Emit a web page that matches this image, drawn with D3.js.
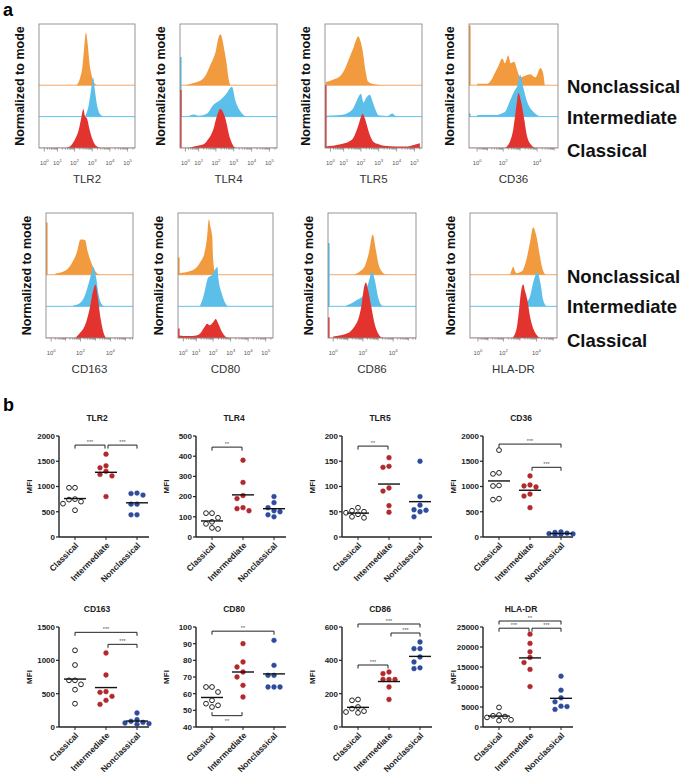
<!DOCTYPE html>
<html><head><meta charset="utf-8">
<script src="https://cdn.jsdelivr.net/npm/d3@7"></script>
<style>
body{margin:0;background:#fff}
svg{display:block}
text{font-family:Arial,"Liberation Sans",Helvetica,sans-serif}
</style>
</head><body>
<svg id="c" width="685" height="776"></svg>
<script>
// ---------------- DATA ----------------
const markers = ["TLR2","TLR4","TLR5","CD36","CD163","CD80","CD86","HLA-DR"];
const populations = ["Classical","Intermediate","Nonclassical"];
const histOrder = ["Nonclassical","Intermediate","Classical"];

// flow histogram axis type per marker (A: 10^0..10^5, B/C: 10^0,10^2,10^4 labels)
const histAxisType = ["A","A","A","B","C","A","C","B"];
const decadeLabelsA = [0,1,2,3,4,5];
const decadeLabelsBC = [0,2,4];

// histogram profiles: [log10 fluorescence, height normalized to mode]
const histNonclassical = [
  [[2.1,0],[2.3,0.2],[2.45,0.6],[2.55,1.2],[2.65,1.68],[2.75,1.3],[2.85,0.7],[3.0,0.25],[3.15,0.05],[3.3,0]],
  [[0,0],[0.5,0.05],[1.1,0.14],[1.4,0.3],[1.65,0.6],[1.85,0.85],[2.0,1.1],[2.1,1.4],[2.25,1.62],[2.35,1.5],[2.45,1.2],[2.6,0.7],[2.7,0.25],[2.8,0]],
  [[-1,0.1],[0.3,0.18],[0.8,0.3],[1.1,0.55],[1.35,0.88],[1.55,1.15],[1.7,1.4],[1.85,1.56],[1.95,1.45],[2.1,1.1],[2.25,0.5],[2.4,0.12],[2.7,0.04],[3.2,0]],
  [[0,0.05],[1.0,0.05],[1.3,0.2],[1.5,0.4],[1.7,0.6],[1.95,0.85],[2.1,0.7],[2.3,0.95],[2.45,0.7],[2.65,0.75],[2.85,0.45],[3.0,0.25],[3.3,0.3],[3.6,0.35],[3.9,0.25],[4.2,0.55],[4.35,0.4],[4.45,0]],
  [[0.3,0.04],[1.05,0.15],[1.4,0.35],[1.75,0.7],[2.0,1.11],[2.3,1.1],[2.5,0.7],[2.75,0.35],[3.1,0.05],[3.3,0]],
  [[-1,0.05],[0.8,0.15],[1.25,0.4],[1.5,0.7],[1.65,1.2],[1.75,1.75],[1.85,1.5],[1.95,1.2],[2.0,0.5],[2.1,0.1],[2.2,0]],
  [[1.35,0],[1.8,0.1],[2.15,0.3],[2.4,0.7],[2.65,1.27],[2.85,0.8],[3.05,0.3],[3.25,0.1],[3.5,0]],
  [[2.4,0],[2.5,0.15],[2.6,0.25],[2.7,0.12],[2.8,0.05],[3.1,0.1],[3.4,0.5],[3.6,1.0],[3.8,1.5],[4.0,1.2],[4.2,0.6],[4.35,0.2],[4.55,0]]
];
const histIntermediate = [
  [[2.6,0],[2.8,0.35],[2.95,0.9],[3.05,1.24],[3.15,0.85],[3.3,0.3],[3.5,0.05],[3.7,0]],
  [[0.2,0],[0.7,0.07],[1.0,0.03],[1.5,0.1],[1.85,0.37],[2.25,0.53],[2.6,0.74],[2.9,0.95],[3.1,0.5],[3.4,0.15],[3.7,0]],
  [[-1,0.03],[0.8,0.05],[1.35,0.15],[1.6,0.3],[1.8,0.55],[2.0,0.73],[2.15,0.45],[2.3,0.6],[2.5,0.7],[2.65,0.5],[2.8,0.25],[3.0,0.04],[3.5,0.02],[3.75,0.1],[3.95,0.02],[4.3,0]],
  [[0,0.05],[1.5,0.05],[2.1,0.15],[2.4,0.5],[2.65,0.8],[2.85,1.0],[3.0,1.33],[3.2,0.9],[3.4,0.5],[3.7,0.2],[4.0,0.05],[4.2,0]],
  [[1.5,0.03],[1.95,0.1],[2.3,0.35],[2.5,0.65],[2.7,1.0],[2.85,1.24],[3.05,0.9],[3.2,0.4],[3.45,0.05],[3.6,0]],
  [[1.25,0.05],[1.4,0.25],[1.6,0.7],[1.7,0.9],[1.95,1.0],[2.1,1.15],[2.25,1.24],[2.3,0.9],[2.5,0.4],[2.7,0.1],[2.85,0]],
  [[0.9,0.03],[1.25,0.1],[1.6,0.2],[1.95,0.3],[2.2,0.5],[2.4,0.8],[2.6,1.1],[2.8,0.8],[3.0,0.3],[3.2,0.05],[3.4,0]],
  [[3.0,0.03],[3.3,0.08],[3.6,0.3],[3.8,0.75],[4.05,1.08],[4.25,0.7],[4.4,0.2],[4.6,0]]
];
const histClassical = [
  [[1.5,0],[1.8,0.08],[2.05,0.3],[2.25,0.6],[2.4,1.0],[2.5,1.24],[2.6,1.0],[2.7,0.95],[2.85,0.6],[3.0,0.3],[3.2,0.08],[3.5,0]],
  [[0.3,0],[0.7,0.05],[1.3,0.12],[1.55,0.27],[1.85,0.58],[2.05,1.0],[2.25,1.24],[2.5,1.0],[2.8,0.3],[3.0,0.05],[3.15,0]],
  [[-1,0.05],[0.8,0.12],[1.3,0.2],[1.55,0.3],[1.75,0.55],[1.9,0.8],[2.1,1.08],[2.25,0.9],[2.4,0.6],[2.55,0.35],[2.7,0.2],[3.0,0.12],[3.3,0.07],[4.0,0.05],[4.6,0.05],[5.0,0.1],[5.3,0.15]],
  [[2.1,0],[2.4,0.2],[2.6,0.6],[2.8,1.4],[2.9,1.75],[3.05,1.5],[3.25,0.9],[3.4,0.4],[3.65,0.1],[3.9,0]],
  [[1.65,0],[1.95,0.15],[2.3,0.4],[2.6,0.9],[2.85,1.5],[3.0,1.68],[3.15,1.3],[3.35,0.6],[3.55,0.15],[3.7,0]],
  [[-1,0.08],[0.5,0.06],[1.0,0.08],[1.25,0.15],[1.5,0.35],[1.65,0.45],[1.8,0.4],[2.0,0.5],[2.15,0.6],[2.3,0.45],[2.5,0.2],[2.7,0.05],[2.9,0]],
  [[0,0.05],[0.45,0.08],[0.8,0.12],[1.15,0.2],[1.5,0.4],[1.7,0.6],[1.9,1.0],[2.1,1.65],[2.2,1.75],[2.35,1.5],[2.55,1.0],[2.75,0.5],[2.95,0.2],[3.15,0.05],[3.35,0]],
  [[2.55,0],[2.8,0.3],[2.95,0.9],[3.05,1.4],[3.2,1.7],[3.3,1.5],[3.45,1.2],[3.6,0.7],[3.8,0.3],[4.0,0.1],[4.2,0]]
];
// off-scale-low events piled at the axis minimum (height normalized to mode)
const edgeNonclassical = [0,0,0,1.9,1.65,0.55,0,0];
const edgeIntermediate = [0,1.9,0,0.1,0,0,2.0,0];
const edgeClassical    = [0,1.85,2.0,0,0,0.3,0.65,0];

// MFI per donor (7 donors)
const mfiClassical = [
  [975,975,750,740,700,660,530],
  [118,118,95,75,65,45,40],
  [58,52,50,48,45,40,38],
  [1720,1270,1250,1020,1010,760,740],
  [1150,930,700,700,640,560,350],
  [64,64,61,56,54,53,52],
  [165,160,120,110,95,90,85],
  [4900,3000,2800,2600,2400,1800,1600]
];
const mfiIntermediate = [
  [1640,1410,1370,1300,1240,1210,800],
  [380,270,205,190,145,140,130],
  [157,140,138,97,91,62,49],
  [1210,1030,1010,990,850,810,580],
  [1110,780,530,520,460,400,340],
  [90,79,76,73,70,65,58],
  [330,320,285,285,285,240,165],
  [23200,20900,18800,17400,16100,14400,10100]
];
const mfiNonclassical = [
  [870,860,830,650,650,440,440],
  [200,170,145,130,125,110,100],
  [150,80,63,54,53,50,40],
  [100,90,75,65,60,55,45],
  [210,110,85,70,60,50,40],
  [92,77,71,71,64,64,64],
  [510,470,470,420,390,355,350],
  [12700,9200,7300,6300,5200,5100,4400]
];
const yAxisMin  = [0,0,0,0,0,40,0,0];
const yAxisMax  = [2000,500,200,2000,1500,100,600,25000];
const yAxisStep = [500,100,50,500,500,10,200,5000];
// significance: [fromGroup, toGroup, MFI level, label, orientation(1 above, -1 below)]
const sigBrackets = [
  [[0,1,1820,"***",1],[1,2,1820,"***",1]],
  [[0,1,445,"**",1]],
  [[0,1,180,"**",1]],
  [[0,2,1840,"***",1],[1,2,1380,"***",1]],
  [[0,2,1420,"***",1],[1,2,1240,"***",1]],
  [[0,2,97.5,"**",1],[0,1,46.8,"**",-1]],
  [[0,2,618,"***",1],[1,2,564,"***",1],[0,1,372,"***",1]],
  [[0,2,26500,"**",1],[0,1,24700,"***",1],[1,2,24700,"***",1]]
];

// ---------------- DRAWING ----------------
const svg = d3.select("#c");
const histData = {Nonclassical:histNonclassical, Intermediate:histIntermediate, Classical:histClassical};
const edgeData = {Nonclassical:edgeNonclassical, Intermediate:edgeIntermediate, Classical:edgeClassical};
const histFill = {Nonclassical:"#F29A3E", Intermediate:"#5BBFE9", Classical:"#E2332F"};
const histLine = {Nonclassical:"#F4A868", Intermediate:"#63C3EC", Classical:"#EC8C8C"};
const laneOffset = {Nonclassical:2, Intermediate:1, Classical:0};
const scaleSpecs = {
  A:{c:1, lo:0, hi:262144, labels:decadeLabelsA},
  B:{c:2, lo:-2, hi:170000, labels:decadeLabelsBC},
  C:{c:0.1, lo:0.4, hi:320000, labels:decadeLabelsBC}
};

const hTop = [24,213], hBot = [148,338];
const hCols = [[39,135],[180,277],[325,422],[469,558],[46,133],[178,273],[328,416],[470,557]];

svg.append("text").attr("x",3).attr("y",16).attr("font-size",18).attr("font-weight","bold").text("a");
svg.append("text").attr("x",3).attr("y",411).attr("font-size",18).attr("font-weight","bold").text("b");

markers.forEach((m,i)=>{
  const r = i<4?0:1;
  const [x0,x1] = hCols[i];
  const top = hTop[r], bot = hBot[r];
  const spec = scaleSpecs[histAxisType[i]];
  const x = d3.scaleSymlog().constant(spec.c).domain([spec.lo, spec.hi]).range([x0,x1]);
  const y = d3.scaleLinear().domain([0,3.95]).range([bot,top]);
  const g = svg.append("g");
  const cid = "clip"+i;
  g.append("clipPath").attr("id",cid).append("rect").attr("x",x0).attr("y",top).attr("width",x1-x0).attr("height",bot-top);
  const pg = g.append("g").attr("clip-path",`url(#${cid})`);
  histOrder.forEach(p=>{
    const off = laneOffset[p];
    const pts = histData[p][i];
    const area = d3.area()
      .x(d=>x(Math.pow(10,d[0])))
      .y0(y(off)).y1(d=>y(off+d[1]))
      .curve(d3.curveMonotoneX);
    pg.append("line").attr("x1",x0).attr("x2",x1).attr("y1",y(off)).attr("y2",y(off))
      .attr("stroke",histLine[p]).attr("stroke-width",1);
    pg.append("path").attr("d",area(pts)).attr("fill",histFill[p]);
    const e = edgeData[p][i];
    if(e>0){
      pg.append("rect").attr("x",x(spec.lo)).attr("width",1.6)
        .attr("y",y(off+e)).attr("height",y(off)-y(off+e)).attr("fill",histFill[p]);
    }
  });
  // box
  g.append("rect").attr("x",x0).attr("y",top).attr("width",x1-x0).attr("height",bot-top)
    .attr("fill","none").attr("stroke","#8a8a8a").attr("stroke-width",0.9);
  // ticks
  const tg = g.append("g").attr("stroke","#777").attr("stroke-width",0.7);
  for(let k=0;k<=5;k++){
    for(let mm=1;mm<=9;mm++){
      const v = mm*Math.pow(10,k);
      if(v<Math.max(spec.lo,1) || v>spec.hi) continue;
      const len = mm===1 ? (spec.labels.includes(k)?3.5:2.6) : 1.6;
      tg.append("line").attr("x1",x(v)).attr("x2",x(v)).attr("y1",bot).attr("y2",bot+len);
    }
  }
  spec.labels.forEach(k=>{
    const t = g.append("text").attr("x",x(Math.pow(10,k))).attr("y",bot+17)
      .attr("text-anchor","middle").attr("font-size",5.8).attr("fill","#555");
    t.append("tspan").text("10");
    t.append("tspan").attr("dy",-2.6).attr("font-size",4.3).text(k);
  });
  g.append("text").attr("x",(x0+x1)/2).attr("y",r===0?183:373).attr("text-anchor","middle")
    .attr("font-size",11.5).attr("fill","#333").text(m);
  g.append("text").attr("transform",`translate(${x0-15},${(top+bot)/2}) rotate(-90)`)
    .attr("text-anchor","middle").attr("font-size",12.5).attr("font-weight","bold").attr("fill","#111")
    .text("Normalized to mode");
});

// population labels beside histograms
const popLabelY = [[93,124,157],[283,313,347]];
popLabelY.forEach(ys=>{
  histOrder.forEach((p,j)=>{
    svg.append("text").attr("x",567).attr("y",ys[j]).attr("font-size",18.5)
      .attr("font-weight","bold").attr("fill","#111").text(p);
  });
});

// ---------- scatter plots ----------
const sX = [59,196,342,483], sTop=[436,627], sBot=[537,727];
const dotFill = {Classical:"#fff", Intermediate:"#B2282D", Nonclassical:"#2E4B9C"};
const dotStroke = {Classical:"#222", Intermediate:"#B2282D", Nonclassical:"#2E4B9C"};
const mfi = {Classical:mfiClassical, Intermediate:mfiIntermediate, Nonclassical:mfiNonclassical};

markers.forEach((m,i)=>{
  const r = i<4?0:1, col = i%4;
  const x0 = sX[col], top=sTop[r], bot=sBot[r];
  const y = d3.scaleLinear().domain([yAxisMin[i], yAxisMax[i]]).range([bot,top]);
  const xs = d3.scalePoint().domain(populations).range([x0+16, x0+78]);
  const g = svg.append("g");
  // axes
  g.append("line").attr("x1",x0).attr("x2",x0).attr("y1",top).attr("y2",bot).attr("stroke","#222").attr("stroke-width",1.4);
  g.append("line").attr("x1",x0).attr("x2",x0+90).attr("y1",bot).attr("y2",bot).attr("stroke","#222").attr("stroke-width",1.4);
  d3.range(yAxisMin[i], yAxisMax[i]+yAxisStep[i]/2, yAxisStep[i]).forEach(v=>{
    g.append("line").attr("x1",x0-3).attr("x2",x0).attr("y1",y(v)).attr("y2",y(v)).attr("stroke","#222").attr("stroke-width",1.2);
    g.append("text").attr("x",x0-4).attr("y",y(v)).attr("dy","0.36em").attr("text-anchor","end")
      .attr("font-size",8).attr("font-weight","bold").attr("fill","#222").text(v);
  });
  populations.forEach(p=>{
    const cx = xs(p);
    g.append("line").attr("x1",cx).attr("x2",cx).attr("y1",bot).attr("y2",bot+3).attr("stroke","#222").attr("stroke-width",1);
    g.append("text").attr("transform",`translate(${cx+4},${bot+9}) rotate(-45)`).attr("text-anchor","end")
      .attr("font-size",8.5).attr("font-weight","bold").attr("fill","#222").text(p);
  });
  g.append("text").attr("x",x0+38).attr("y",top-15).attr("text-anchor","middle")
    .attr("font-size",8.5).attr("font-weight","bold").attr("fill","#222").text(m);
  g.append("text").attr("transform",`translate(${x0-27},${(top+bot)/2}) rotate(-90)`).attr("text-anchor","middle")
    .attr("font-size",8).attr("font-weight","bold").attr("fill","#222").text("MFI");
  // points spread horizontally where they would overlap
  const rad = 2.4, step = 6, minD = 5.4;
  populations.forEach(p=>{
    const vals = mfi[p][i].slice().sort((a,b)=>b-a);
    const placed = [];
    vals.forEach(v=>{
      const py = y(v);
      const cands = [0,-1,1,-2,2];
      let best = 0, bestClear = -1;
      for(const c of cands){
        const tx = c*step;
        const clear = placed.length ? d3.min(placed, q=>Math.hypot(q[0]-tx,q[1]-py)) : 99;
        if(clear>=minD){best=tx;bestClear=clear;break;}
        if(clear>bestClear){bestClear=clear;best=tx;}
      }
      placed.push([best,py]);
    });
    placed.forEach(q=>{
      g.append("circle").attr("cx",xs(p)+q[0]).attr("cy",q[1]).attr("r",rad)
        .attr("fill",dotFill[p]).attr("stroke",dotStroke[p]).attr("stroke-width",p==="Classical"?1:0.5);
    });
    const mean = d3.mean(mfi[p][i]);
    g.append("line").attr("x1",xs(p)-11).attr("x2",xs(p)+11).attr("y1",y(mean)).attr("y2",y(mean))
      .attr("stroke","#111").attr("stroke-width",1.4);
  });
  // significance brackets
  sigBrackets[i].forEach(b=>{
    const [a,c,v,lab,dir] = b;
    const xa = xs(populations[a]) + (a===1?2:0), xc = xs(populations[c]) + (c===1?-1:0);
    const yy = y(v);
    g.append("path").attr("d",`M${xa},${yy+3.5*dir}V${yy}H${xc}V${yy+3.5*dir}`)
      .attr("fill","none").attr("stroke","#222").attr("stroke-width",1);
    g.append("text").attr("x",(xa+xc)/2).attr("y",dir>0?yy-1.5:yy+7.5).attr("text-anchor","middle")
      .attr("font-size",5.5).attr("fill","#555").text(lab);
  });
});
</script>
</body></html>
